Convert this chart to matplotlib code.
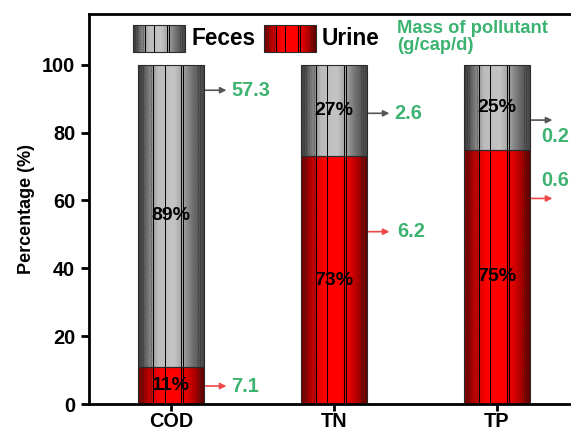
import numpy as np
import matplotlib
matplotlib.use('Agg')
import matplotlib.pyplot as plt
from matplotlib.colors import LinearSegmentedColormap
from matplotlib.patches import Rectangle

plt.rcParams['font.family'] = ['Liberation Sans', 'DejaVu Sans']
plt.rcParams['font.weight'] = 'bold'

# data
categories = ['COD', 'TN', 'TP']
urine_pct = [11, 73, 75]
feces_pct = [89, 27, 25]
feces_mass = [57.3, 2.6, 0.2]
urine_mass = [7.1, 6.2, 0.6]

# where the mass arrows sit (y in %), and where their text goes
feces_arrow_y = [92.5, 85.7, 83.7]
urine_arrow_y = [5.3, 50.8, 60.6]
feces_text_pos = [(0.368, 92.5), (0.368, 85.7), (0.27, 79)]
urine_text_pos = [(0.368, 5.3), (0.387, 50.8), (0.27, 66)]

GREEN = '#3cb371'
gray_cmap = LinearSegmentedColormap.from_list('cyl_gray', [
    (0.0, '#3a3a3a'), (0.08, '#555555'), (0.2, '#8a8a8a'), (0.3, '#bcbcbc'),
    (0.55, '#c4c4c4'), (0.7, '#9c9c9c'), (0.85, '#6a6a6a'), (1.0, '#444444')])
red_cmap = LinearSegmentedColormap.from_list('cyl_red', [
    (0.0, '#700000'), (0.1, '#9c0000'), (0.25, '#e00000'), (0.35, '#ff0000'),
    (0.6, '#ff0000'), (0.75, '#dd0000'), (0.9, '#9a0000'), (1.0, '#600000')])

# texture lines inside each cylinder (fraction of width)
solid_lines = [0.23, 0.40, 0.65, 0.69]
dotted_lines = [0.04, 0.07, 0.19, 0.91, 0.95]


def cylinder(ax, x, y, w, h, cmap, transform):
    box = Rectangle((x, y), w, h, transform=transform, facecolor='none',
                    edgecolor='#2a2a2a', lw=0.8, zorder=4)
    ax.add_patch(box)
    grad = np.linspace(0, 1, 256).reshape(1, -1)
    im = ax.imshow(grad, cmap=cmap, aspect='auto', extent=(x, x + w, y, y + h),
                   origin='lower', zorder=2, transform=transform, interpolation='bilinear')
    im.set_clip_path(box)
    for f in solid_lines:
        ax.plot([x + f * w] * 2, [y, y + h], color='black', lw=0.7, zorder=3, transform=transform)
    for f in dotted_lines:
        ax.plot([x + f * w] * 2, [y, y + h], color='#222222', lw=0.4, ls=(0, (2, 2)),
                zorder=3, transform=transform)


fig = plt.figure(figsize=(5.71, 4.32), dpi=100)
ax = fig.add_axes([0.156, 0.0648, 0.857, 0.903])

x = np.arange(len(categories))
width = 0.4
urine_bars = ax.bar(x, urine_pct, width, color='none', edgecolor='none')
feces_bars = ax.bar(x, feces_pct, width, bottom=urine_pct, color='none', edgecolor='none')

for bar in urine_bars:
    cylinder(ax, bar.get_x(), bar.get_y(), bar.get_width(), bar.get_height(), red_cmap, ax.transData)
for bar in feces_bars:
    cylinder(ax, bar.get_x(), bar.get_y(), bar.get_width(), bar.get_height(), gray_cmap, ax.transData)

# percentage labels
for i in range(len(categories)):
    ax.text(x[i], urine_pct[i] / 2, f'{urine_pct[i]}%', ha='center', va='center',
            fontsize=14, fontweight='bold', color='black', zorder=5)
    ax.text(x[i], urine_pct[i] + feces_pct[i] / 2, f'{feces_pct[i]}%', ha='center', va='center',
            fontsize=14, fontweight='bold', color='black', zorder=5)

# mass arrows
for i in range(len(categories)):
    for ay, (tx, ty), val, col in [(feces_arrow_y[i], feces_text_pos[i], feces_mass[i], '#555555'),
                                   (urine_arrow_y[i], urine_text_pos[i], urine_mass[i], '#f04848')]:
        ax.annotate('', xy=(x[i] + 0.34, ay), xytext=(x[i] + 0.212, ay),
                    arrowprops=dict(arrowstyle='-|>', color=col, lw=1.2,
                                    mutation_scale=9, shrinkA=0, shrinkB=0))
        ax.text(x[i] + tx, ty, f'{val}', ha='left', va='center', fontsize=14.3,
                fontweight='bold', color=GREEN)

# legend drawn by hand so the swatches keep the cylinder look
cylinder(ax, 0.0899, 0.9026, 0.106, 0.069, gray_cmap, ax.transAxes)
ax.text(0.210, 0.937, 'Feces', transform=ax.transAxes, ha='left', va='center',
        fontsize=16.3, fontweight='bold')
cylinder(ax, 0.3575, 0.9026, 0.106, 0.069, red_cmap, ax.transAxes)
ax.text(0.476, 0.937, 'Urine', transform=ax.transAxes, ha='left', va='center',
        fontsize=16.3, fontweight='bold')
ax.text(0.629, 0.985, 'Mass of pollutant\n(g/cap/d)', transform=ax.transAxes, ha='left',
        va='top', fontsize=13.2, fontweight='bold', color=GREEN, linespacing=1.05)

ax.set_xlim(-0.503, 2.5)
ax.set_ylim(0, 115)
ax.set_xticks(x)
ax.set_xticklabels(categories, fontsize=14.3, fontweight='bold')
ax.set_yticks([0, 20, 40, 60, 80, 100])
ax.set_yticklabels(['0', '20', '40', '60', '80', '100'], fontsize=14.3, fontweight='bold')
ax.set_ylabel('Percentage (%)', fontsize=13, fontweight='bold', labelpad=5)
ax.tick_params(direction='out', length=6, width=2, pad=4)
ax.tick_params(axis='x', length=5, pad=1)
for s in ax.spines.values():
    s.set_linewidth(2)

plt.savefig('out.png', dpi=100)
